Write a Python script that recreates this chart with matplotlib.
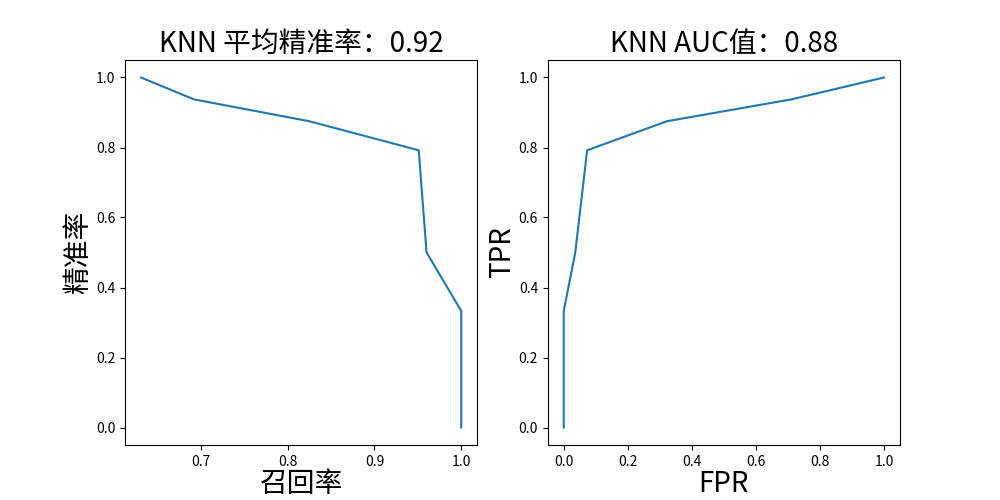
import matplotlib
matplotlib.use("Agg")
import matplotlib.pyplot as plt

plt.rcParams['font.family'] = ['Noto Sans CJK SC', 'DejaVu Sans']
plt.rcParams['axes.unicode_minus'] = False

# precision-recall curve
recall = [0.631, 0.692, 0.825, 0.951, 0.960, 1.0, 1.0]
precision = [1.0, 0.9375, 0.875, 0.792, 0.5, 0.333, 0.0]
avg_precision = 0.92

# ROC curve
fpr = [0.0, 0.0, 0.036, 0.073, 0.322, 0.711, 1.0]
tpr = [0.0, 0.333, 0.5, 0.792, 0.875, 0.9375, 1.0]
auc_value = 0.88

fig = plt.figure(figsize=(10, 5), dpi=100)

ax1 = fig.add_subplot(1, 2, 1)
ax1.plot(recall, precision)
ax1.set_title("KNN 平均精准率：%.2f" % avg_precision, fontsize=20)
ax1.set_xlabel("召回率", fontsize=20, labelpad=0)
ax1.set_ylabel("精准率", fontsize=20, labelpad=2)

ax2 = fig.add_subplot(1, 2, 2)
ax2.plot(fpr, tpr)
ax2.set_title("KNN AUC值：%.2f" % auc_value, fontsize=20)
ax2.set_xlabel("FPR", fontsize=20, labelpad=0)
ax2.set_ylabel("TPR", fontsize=20, labelpad=1)

fig.savefig("out.png", dpi=100)
plt.close(fig)
